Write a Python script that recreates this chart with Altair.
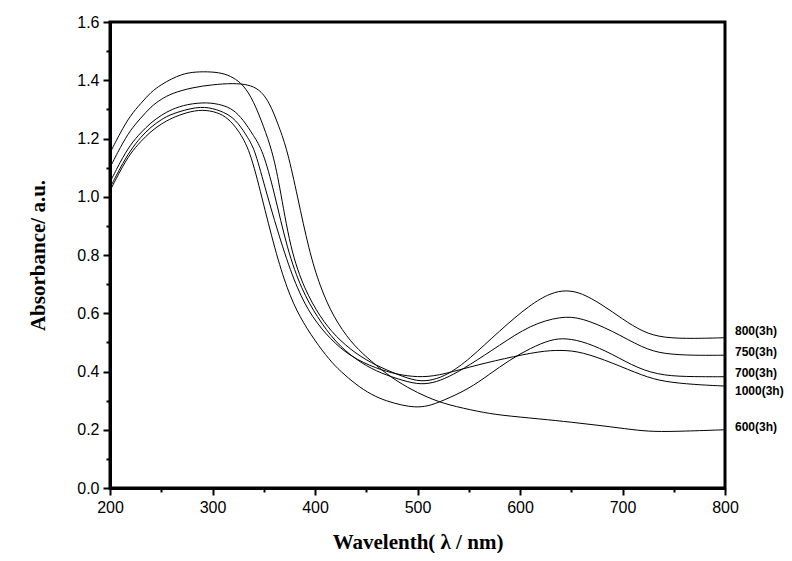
import altair as alt
import pandas as pd

# ---- data ----
wl_800 = [200,210,220,230,240,250,260,270,280,295,310,320,330,340,350,358,365,376,390,405,420,440,460,480,500,515,530,550,580,610,630,645,660,680,700,720,740,770,800]
ab_800 = [1.15,1.22,1.28,1.32,1.36,1.385,1.405,1.42,1.428,1.43,1.425,1.41,1.385,1.33,1.24,1.16,1.05,0.817,0.68,0.587,0.52,0.46,0.42,0.39,0.365,0.37,0.39,0.44,0.54,0.63,0.67,0.68,0.67,0.63,0.58,0.535,0.515,0.513,0.516]

wl_600 = [200,210,220,230,240,250,260,280,300,320,335,345,355,365,373,383,394,405,418,435,450,470,490,510,530,560,580,620,650,680,710,730,760,800]
ab_600 = [1.10,1.17,1.23,1.27,1.31,1.335,1.355,1.375,1.385,1.39,1.385,1.37,1.33,1.24,1.16,1.0,0.817,0.69,0.587,0.5,0.45,0.39,0.345,0.31,0.285,0.262,0.25,0.237,0.226,0.214,0.2,0.193,0.195,0.2]

wl_750 = [200,210,220,230,240,250,260,275,295,310,320,330,340,349,360,373,387,402,420,440,460,480,500,515,530,550,580,610,640,660,690,720,740,770,800]
ab_750 = [1.05,1.12,1.18,1.22,1.255,1.28,1.30,1.318,1.325,1.315,1.30,1.265,1.21,1.16,1.02,0.817,0.68,0.587,0.5,0.44,0.4,0.375,0.355,0.36,0.38,0.42,0.49,0.56,0.59,0.585,0.54,0.48,0.46,0.455,0.456]

wl_1000 = [200,210,220,230,240,250,260,285,300,315,325,335,341.5,352,369,383,397,415,435,460,480,500,520,550,585,620,640,660,690,720,740,770,800]
ab_1000 = [1.03,1.10,1.16,1.205,1.24,1.265,1.285,1.31,1.305,1.285,1.255,1.2,1.16,1.02,0.817,0.68,0.587,0.51,0.45,0.41,0.39,0.38,0.385,0.415,0.445,0.47,0.474,0.468,0.43,0.385,0.365,0.355,0.35]

wl_700 = [200,210,220,230,240,250,260,275,290,305,315,325,336.6,348,361,373,385,400,414,425,440,455,470,485,497,510,525,550,570,590,610,630,645,665,690,715,740,770,800]
ab_700 = [1.02,1.09,1.15,1.19,1.225,1.25,1.27,1.29,1.30,1.29,1.27,1.23,1.16,1.0,0.817,0.68,0.587,0.505,0.44,0.40,0.355,0.32,0.298,0.284,0.277,0.28,0.3,0.34,0.39,0.44,0.48,0.51,0.515,0.5,0.46,0.41,0.385,0.382,0.382]

series_names = ["800(3h)", "750(3h)", "700(3h)", "1000(3h)", "600(3h)"]
label_y = [0.54, 0.467, 0.395, 0.333, 0.208]

x_major = [200, 300, 400, 500, 600, 700, 800]
x_minor = [250, 350, 450, 550, 650, 750]
y_major = [0.0, 0.2, 0.4, 0.6, 0.8, 1.0, 1.2, 1.4, 1.6]
y_minor = [0.1, 0.3, 0.5, 0.7, 0.9, 1.1, 1.3, 1.5]

# ---- build table ----
rows = []
for name, wl, ab in [("800(3h)", wl_800, ab_800), ("750(3h)", wl_750, ab_750),
                     ("700(3h)", wl_700, ab_700), ("1000(3h)", wl_1000, ab_1000),
                     ("600(3h)", wl_600, ab_600)]:
    for w, a in zip(wl, ab):
        rows.append({"series": name, "wl": w, "ab": a})
df = pd.DataFrame(rows)
labels = pd.DataFrame({"series": series_names, "wl": [800] * 5, "y": label_y})

xscale = alt.Scale(domain=[200, 800], nice=False)
yscale = alt.Scale(domain=[0, 1.6], nice=False)

lines = alt.Chart(df).mark_line(color="black", strokeWidth=1, interpolate="basis").encode(
    x=alt.X("wl:Q", scale=xscale, axis=alt.Axis(
        values=x_major, title="Wavelenth( λ / nm)", format="d", labelFlush=False,
        labelFont="Liberation Sans", labelFontSize=16, labelColor="black", labelPadding=4,
        titleFont="Liberation Serif", titleFontSize=21, titleFontWeight="bold", titleColor="black", titlePadding=16,
        domainColor="black", domainWidth=3, tickColor="black", tickWidth=2, tickSize=7, grid=False)),
    y=alt.Y("ab:Q", scale=yscale, axis=alt.Axis(
        values=y_major, title="Absorbance/ a.u.", format=".1f",
        labelFont="Liberation Sans", labelFontSize=16, labelColor="black", labelPadding=4,
        titleFont="Liberation Serif", titleFontSize=21, titleFontWeight="bold", titleColor="black", titlePadding=28,
        domainColor="black", domainWidth=3, tickColor="black", tickWidth=2, tickSize=7, grid=False)),
    detail="series:N",
)

minor = alt.Chart(df).mark_line(opacity=0).encode(
    x=alt.X("wl:Q", scale=xscale, axis=alt.Axis(
        values=x_minor, labels=False, title=None, domain=False, orient="bottom",
        tickColor="black", tickWidth=2, tickSize=4, grid=False)),
    y=alt.Y("ab:Q", scale=yscale, axis=alt.Axis(
        values=y_minor, labels=False, title=None, domain=False, orient="left",
        tickColor="black", tickWidth=2, tickSize=4, grid=False)),
    detail="series:N",
)

text = alt.Chart(labels).mark_text(align="left", baseline="middle", dx=10, font="Liberation Sans",
                                    fontSize=12, fontWeight="bold", color="black", clip=False).encode(
    x=alt.X("wl:Q", scale=xscale, axis=None),
    y=alt.Y("y:Q", scale=yscale, axis=None),
    text="series:N",
)

chart = alt.layer(lines, minor, text).resolve_axis(x="independent", y="independent").properties(
    width=615, height=466,
    autosize=alt.AutoSizeParams(type="none"),
    padding={"left": 102, "top": 14, "right": 59, "bottom": 65},
).configure_view(stroke="black", strokeWidth=3)

chart.save("out.html", embed_options={"renderer": "svg", "actions": False})
